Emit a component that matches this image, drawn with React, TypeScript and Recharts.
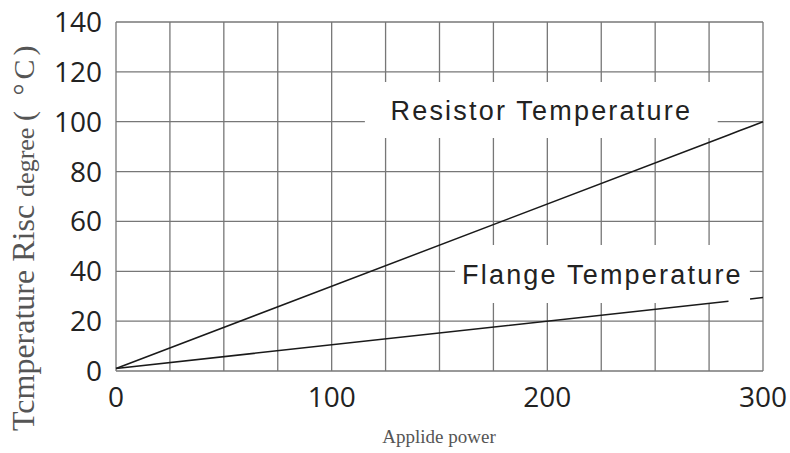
import { LineChart, Line, XAxis, YAxis, CartesianGrid, ReferenceArea, Label } from 'recharts';

// x values (applied power) and the two temperature curves; null leaves a gap under the label
const power = [0, 284, 289, 294, 300];
const resistorTemp = [1, 94.7, 96.4, 98, 100];
const flangeTemp = [1, 28, null, 28.9, 29.5];

const powerTicks = [0, 100, 200, 300];
const powerGrid = [0, 25, 50, 75, 100, 125, 150, 175, 200, 225, 250, 275, 300];
const tempTicks = [0, 20, 40, 60, 80, 100, 120, 140];

const data = power.map((p, i) => ({ power: p, resistor: resistorTemp[i], flange: flangeTemp[i] }));

const tickStyle = { fontFamily: '"Open Sans", sans-serif', fontSize: 28, fill: '#222' };
const labelStyle = { fontFamily: '"Liberation Sans", Arial, sans-serif', fontSize: 27, fill: '#222', letterSpacing: 2.2 };

function YTitle() {
  return (
    <text
      transform="translate(34, 431) rotate(-90)"
      textAnchor="start"
      fontFamily='"Liberation Serif", serif'
      fill="#555"
    >
      <tspan fontSize={32}>Tcmperature Risc </tspan>
      <tspan fontSize={26}>degree </tspan>
      <tspan fontSize={30} letterSpacing={4}>( °C)</tspan>
    </text>
  );
}

function XTitle() {
  return (
    <text x={439} y={443} textAnchor="middle" fontFamily='"Liberation Serif", serif' fontSize={19} fill="#555">
      Applide power
    </text>
  );
}

export default function App() {
  return (
    <div style={{ position: 'absolute', left: 0, top: 0, background: '#fff' }}>
      <LineChart width={790} height={453} data={data} margin={{ top: 22, right: 27, left: 0, bottom: 0 }}>
        <CartesianGrid
          stroke="#777"
          strokeWidth={1.3}
          verticalValues={powerGrid}
          horizontalValues={tempTicks}
        />
        <XAxis
          dataKey="power"
          type="number"
          domain={[0, 300]}
          ticks={powerTicks}
          axisLine={false}
          tickLine={false}
          tickSize={0}
          tickMargin={16}
          height={82}
          tick={tickStyle}
        >
          <Label content={<XTitle />} />
        </XAxis>
        <YAxis
          type="number"
          domain={[0, 140]}
          ticks={tempTicks}
          axisLine={false}
          tickLine={false}
          tickSize={0}
          tickMargin={14}
          width={116}
          tick={tickStyle}
        >
          <Label content={<YTitle />} />
        </YAxis>
        <ReferenceArea
          x1={115.4}
          x2={279}
          y1={93.5}
          y2={115.9}
          fill="#fff"
          fillOpacity={1}
          stroke="none"
          label={{ value: 'Resistor Temperature', position: 'center', style: labelStyle }}
        />
        <ReferenceArea
          x1={157.2}
          x2={293.9}
          y1={27.3}
          y2={50.5}
          fill="#fff"
          fillOpacity={1}
          stroke="none"
          label={{ value: 'Flange Temperature', position: 'center', style: labelStyle }}
        />
        <Line
          type="linear"
          dataKey="resistor"
          stroke="#1a1a1a"
          strokeWidth={1.5}
          dot={false}
          isAnimationActive={false}
        />
        <Line
          type="linear"
          dataKey="flange"
          stroke="#1a1a1a"
          strokeWidth={1.5}
          dot={false}
          connectNulls={false}
          isAnimationActive={false}
        />
      </LineChart>
    </div>
  );
}
